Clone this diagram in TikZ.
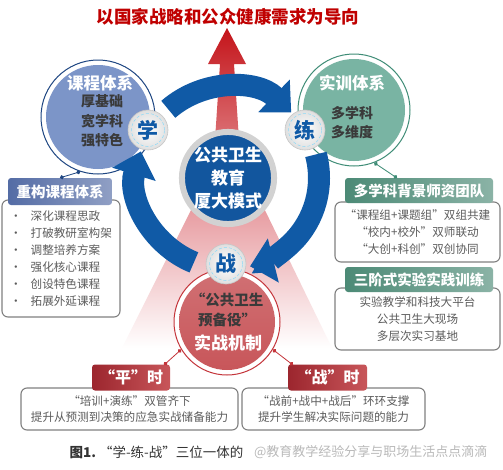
\documentclass[tikz,border=0pt]{standalone}
\usepackage{fontspec}
\setmainfont{Noto Sans CJK SC}
\usetikzlibrary{arrows.meta}

\definecolor{titleRed}{RGB}{192,0,0}
\definecolor{arrowRed}{RGB}{196,20,26}
\definecolor{conePink}{RGB}{230,150,155}
\definecolor{ringBlue}{RGB}{16,90,166}
\definecolor{ctrBlue}{RGB}{18,86,158}
\definecolor{kcFill}{RGB}{124,149,200}
\definecolor{kcLine}{RGB}{30,70,130}
\definecolor{kcDark}{RGB}{84,108,165}
\definecolor{sxFill}{RGB}{121,180,163}
\definecolor{sxLine}{RGB}{62,140,118}
\definecolor{sxDark}{RGB}{76,138,118}
\definecolor{zzFill}{RGB}{200,86,90}
\definecolor{zzLine}{RGB}{196,52,58}
\definecolor{zzDark}{RGB}{156,38,46}
\definecolor{circText}{RGB}{58,58,58}
\definecolor{bodyText}{RGB}{92,92,92}
\definecolor{boxGray}{RGB}{128,128,128}

\begin{document}
\begin{tikzpicture}[x=1pt,y=1pt,
	hdr/.style={rectangle, rounded corners=3pt, inner sep=0pt, text=white,
		font=\fontsize{14.5}{14.5}\selectfont\bfseries},
	bodybox/.style={rectangle, rounded corners=6pt, draw=boxGray, line width=1.1pt,
		fill=white, inner sep=0pt, text=bodyText, font=\fontsize{11.6}{17}\selectfont},
	bigc/.style={circle, inner sep=0pt, fill=white, line width=1pt},
	smallc/.style={circle, draw=gray!45, line width=0.6pt, minimum size=40pt, inner sep=0pt,
		inner color=white, outer color=gray!25, text=ringBlue,
		font=\fontsize{21}{21}\selectfont\bfseries},
	ring/.style={line width=22pt, draw=ringBlue, -{Triangle[width=44pt,length=24pt]}},
	conn/.style={line width=0.8pt, {Circle[length=4pt]}-{Circle[length=4pt]}}
	]
	\fill[white] (0,0) rectangle (503,-469);
	\useasboundingbox (0,0) rectangle (503,-469);

	\shade[top color=conePink, middle color=conePink!70!white, bottom color=white]
		(196,-200) -- (260,-200) -- (332,-348) -- (122,-348) -- cycle;
	\shade[top color=arrowRed, bottom color=arrowRed!60!white]
		(227,-28) -- (246,-64) -- (234,-64) -- (239,-140) -- (215,-140)
		-- (220,-64) -- (208,-64) -- cycle;

	% three systems
	\node[bigc, draw=kcLine, minimum size=114pt] (kc) at (98,-117) {};
	\fill[kcFill] (kc.center) circle (52);
	\node[text=white, font=\fontsize{16.5}{16.5}\selectfont\bfseries] (kcT) at (100,-83) {课程体系};
	\node[text=circText, align=center, font=\fontsize{14}{19.5}\selectfont\bfseries] (kcB) at (102,-121)
		{厚基础\\宽学科\\强特色};

	\node[bigc, draw=sxLine, minimum size=112pt] (sx) at (354,-110) {};
	\fill[sxFill] (sx.center) circle (51);
	\node[text=white, font=\fontsize{16.5}{16.5}\selectfont\bfseries] (sxT) at (352,-83) {实训体系};
	\node[text=circText, align=center, font=\fontsize{14}{19.5}\selectfont\bfseries] (sxB) at (352,-122.5)
		{多学科\\多维度};

	\node[bigc, draw=zzLine, minimum size=106pt] (zz) at (227,-322) {};
	\shade[top color=zzFill!85!white, bottom color=zzFill] (zz.center) circle (48);
	\node[text=circText, align=center, font=\fontsize{14.5}{20}\selectfont\bfseries] (zzB) at (227,-310)
		{“公共卫生\\预备役”};
	\node[text=white, font=\fontsize{17}{17}\selectfont\bfseries] (zzT) at (228,-343) {实战机制};

	\node[circle, minimum size=90pt, inner sep=0pt, fill=ctrBlue, draw=gray!35, line width=6pt,
		text=white, align=center, font=\fontsize{17}{23}\selectfont\bfseries] (ctr) at (228,-178)
		{公共卫生\\教育\\厦大模式};

	% clockwise ring
	\draw[ring] ([shift={(131:91)}]ctr.center) arc[start angle=131, end angle=46, radius=91];
	\draw[ring] ([shift={(15:91)}]ctr.center) arc[start angle=15, end angle=-76, radius=91];
	\draw[ring] ([shift={(248:91)}]ctr.center) arc[start angle=248, end angle=163, radius=91];

	\node[smallc] (xue) at (148,-130) {学};
	\node[smallc] (lian) at (305,-130) {练};
	\node[smallc] (zhan) at (226,-264) {战};
	\foreach \s in {xue,lian,zhan}
		\draw[cyan!45, densely dashed, line width=0.5pt] (\s.center) circle (16.5);

	% left box
	\node[bodybox, minimum width=118pt, minimum height=117pt, align=left] (kcBody) at (61,-258.5)
		{•\hspace{9pt}深化课程思政\\ •\hspace{9pt}打破教研室构架\\ •\hspace{9pt}调整培养方案\\
		 •\hspace{9pt}强化核心课程\\ •\hspace{9pt}创设特色课程\\ •\hspace{9pt}拓展外延课程};
	\node[hdr, left color=kcDark, right color=kcDark!65!white, minimum width=104pt, minimum height=27pt]
		(kcHdr) at (60,-191.5) {重构课程体系};
	\draw[conn, kcLine] (kc.252) -- (kcHdr.north);

	% right boxes
	\node[bodybox, minimum width=165pt, minimum height=60pt, align=center] (sxBody) at (417.5,-232)
		{“课程组+课题组”双组共建\\“校内+校外”双师联动\\“大创+科创”双创协同};
	\node[hdr, left color=sxDark, right color=sxDark!65!white, minimum width=148pt, minimum height=25pt]
		(sxHdr) at (419,-190.5) {多学科背景师资团队};
	\coordinate (sxTop) at (397,-178);
	\draw[conn, sxLine] (sx.-69) -- (sxTop);

	\node[bodybox, minimum width=165pt, minimum height=62pt, align=center] (sjBody) at (417.5,-319)
		{实验教学和科技大平台\\公共卫生大现场\\多层次实习基地};
	\node[hdr, left color=sxDark, right color=sxDark!65!white, minimum width=148pt, minimum height=25pt]
		(sjHdr) at (419,-279.5) {三阶式实验实践训练};

	% bottom boxes
	\node[bodybox, minimum width=217pt, minimum height=42pt, align=center,
		font=\fontsize{11.6}{16}\selectfont] (pingBody) at (129.5,-409)
		{“培训+演练”双管齐下\\提升从预测到决策的应急实战储备能力};
	\node[hdr, left color=zzDark, right color=zzFill, minimum width=78pt, minimum height=26pt,
		font=\fontsize{16}{16}\selectfont\bfseries] (pingHdr) at (131,-377.5) {“平”时};
	\coordinate (pingTop) at (164,-365);
	\draw[conn, zzLine] (zz.211) -- (pingTop);

	\node[bodybox, minimum width=183pt, minimum height=42pt, align=center,
		font=\fontsize{11.6}{16}\selectfont] (zhanBody) at (333.5,-409)
		{“战前+战中+战后”环环支撑\\提升学生解决实际问题的能力};
	\node[hdr, left color=zzDark, right color=zzFill, minimum width=79pt, minimum height=26pt,
		font=\fontsize{16}{16}\selectfont\bfseries] (zhanHdr) at (327.5,-377.5) {“战”时};
	\coordinate (zhanTop) at (293,-365);
	\draw[conn, zzLine] (zz.-31) -- (zhanTop);

	% title and caption
	\node[text=titleRed, font=\fontsize{17.5}{17.5}\selectfont\bfseries] (title) at (228,-17)
		{以国家战略和公众健康需求为导向};
	\node[anchor=west, text=black!80, font=\fontsize{13.5}{13.5}\selectfont] (cap) at (66,-452)
		{\bfseries 图1.\mdseries\ “学-练-战”三位一体的};
	\node[anchor=east, text=gray!60, opacity=0.9, font=\fontsize{13}{13}\selectfont] (mark) at (491,-452)
		{@教育教学经验分享与职场生活点点滴滴};
\end{tikzpicture}
\end{document}
